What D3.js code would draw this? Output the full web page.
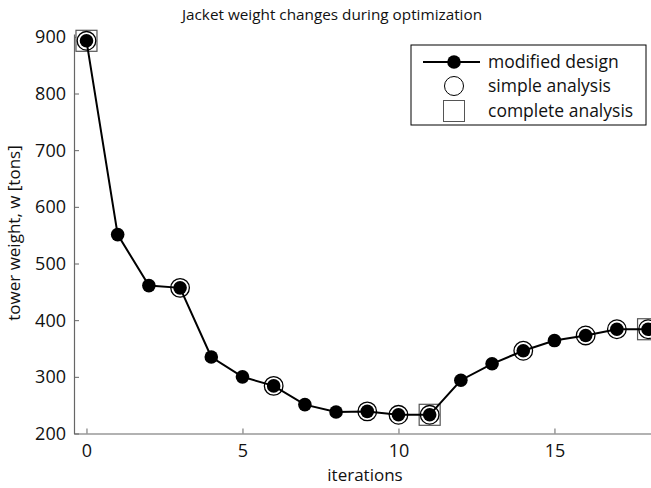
<!DOCTYPE html>
<html>
<head>
<meta charset="utf-8">
<script src="https://cdn.jsdelivr.net/npm/d3@7/dist/d3.min.js"></script>
<style>
  html, body { margin: 0; padding: 0; background: #fff; }
  svg { display: block; }
  text { font-family: "Open Sans", "DejaVu Sans", sans-serif; fill: #111; }
</style>
</head>
<body>
<svg id="chart" width="651" height="488"></svg>
<script>
// Jacket weight per optimization iteration
const iterations = [0, 1, 2, 3, 4, 5, 6, 7, 8, 9, 10, 11, 12, 13, 14, 15, 16, 17, 18];
const weights = [893, 551, 461, 457, 335, 300, 284, 251, 238, 239, 233, 233, 294, 323, 346, 364, 373, 384, 384];
// iterations checked with the simple and complete analysis
const simpleAnalysis = [0, 3, 6, 9, 10, 11, 14, 16, 17, 18];
const completeAnalysis = [0, 11, 18];
const xTicks = [0, 5, 10, 15];
const yTicks = [200, 300, 400, 500, 600, 700, 800, 900];
const legendItems = ["modified design", "simple analysis", "complete analysis"];

const svg = d3.select("#chart");
const axisColor = "#666";

const x = d3.scaleLinear().domain([-0.4, 18.2]).range([74, 654.3]);
const y = d3.scaleLinear().domain([200, 905]).range([433.5, 34]);

// axes (left and bottom only, ticks pointing inward)
const xAxis = svg.append("g").attr("transform", `translate(0,${y(200)})`)
  .call(d3.axisBottom(x).tickValues(xTicks).tickSizeInner(-5).tickSizeOuter(0).tickPadding(11));
const yAxis = svg.append("g").attr("transform", `translate(${x(-0.4)},0)`)
  .call(d3.axisLeft(y).tickValues(yTicks).tickSizeInner(-5).tickSizeOuter(0).tickPadding(8));
[xAxis, yAxis].forEach(g => {
  g.attr("font-size", 18).attr("font-family", "'Open Sans', 'DejaVu Sans', sans-serif");
  g.select(".domain").attr("stroke", axisColor).attr("stroke-width", 1.2);
  g.selectAll(".tick line").attr("stroke", axisColor);
  g.selectAll(".tick text").attr("fill", "#111");
});
yAxis.selectAll(".tick text").attr("dy", "0.34em");

// title and axis labels
svg.append("text").attr("x", 332).attr("y", 20).attr("text-anchor", "middle")
  .attr("font-size", 15.3).text("Jacket weight changes during optimization");
svg.append("text").attr("x", 365).attr("y", 481).attr("text-anchor", "middle")
  .attr("font-size", 17).text("iterations");
svg.append("text").attr("transform", "translate(20,233) rotate(-90)")
  .attr("text-anchor", "middle").attr("font-size", 17).text("tower weight, w [tons]");

const data = iterations.map((it, i) => ({ it, w: weights[i] }));
const byIt = new Map(data.map(d => [d.it, d.w]));

// complete-analysis squares
svg.append("g").selectAll("rect").data(completeAnalysis).join("rect")
  .attr("x", d => x(d) - 10.5).attr("y", d => y(byIt.get(d)) - 10.5)
  .attr("width", 21).attr("height", 21)
  .attr("fill", "#fff").attr("stroke", "#555").attr("stroke-width", 1.2);

// design line
svg.append("path").datum(data)
  .attr("fill", "none").attr("stroke", "#000").attr("stroke-width", 2)
  .attr("d", d3.line().x(d => x(d.it)).y(d => y(d.w)));

// simple-analysis circles
svg.append("g").selectAll("circle").data(simpleAnalysis).join("circle")
  .attr("cx", d => x(d)).attr("cy", d => y(byIt.get(d))).attr("r", 9.3)
  .attr("fill", "none").attr("stroke", "#000").attr("stroke-width", 1.3);

// design points
svg.append("g").selectAll("circle").data(data).join("circle")
  .attr("cx", d => x(d.it)).attr("cy", d => y(d.w)).attr("r", 6.8)
  .attr("fill", "#000");

// legend
const lg = svg.append("g");
lg.append("rect").attr("x", 411).attr("y", 45).attr("width", 235).attr("height", 80)
  .attr("fill", "#fff").attr("stroke", "#000").attr("stroke-width", 1);
const rowY = [62, 86, 111];
lg.append("line").attr("x1", 423).attr("x2", 480).attr("y1", rowY[0]).attr("y2", rowY[0])
  .attr("stroke", "#000").attr("stroke-width", 2);
lg.append("circle").attr("cx", 454).attr("cy", rowY[0]).attr("r", 6.8).attr("fill", "#000");
lg.append("circle").attr("cx", 454).attr("cy", rowY[1]).attr("r", 9.5)
  .attr("fill", "none").attr("stroke", "#000").attr("stroke-width", 1);
lg.append("rect").attr("x", 443.5).attr("y", rowY[2] - 10.5).attr("width", 21).attr("height", 21)
  .attr("fill", "none").attr("stroke", "#555").attr("stroke-width", 1);
lg.selectAll("text.item").data(legendItems).join("text").attr("class", "item")
  .attr("x", 488).attr("y", (d, i) => rowY[i]).attr("dy", "0.35em")
  .attr("font-size", 17.5).text(d => d);
</script>
</body>
</html>
